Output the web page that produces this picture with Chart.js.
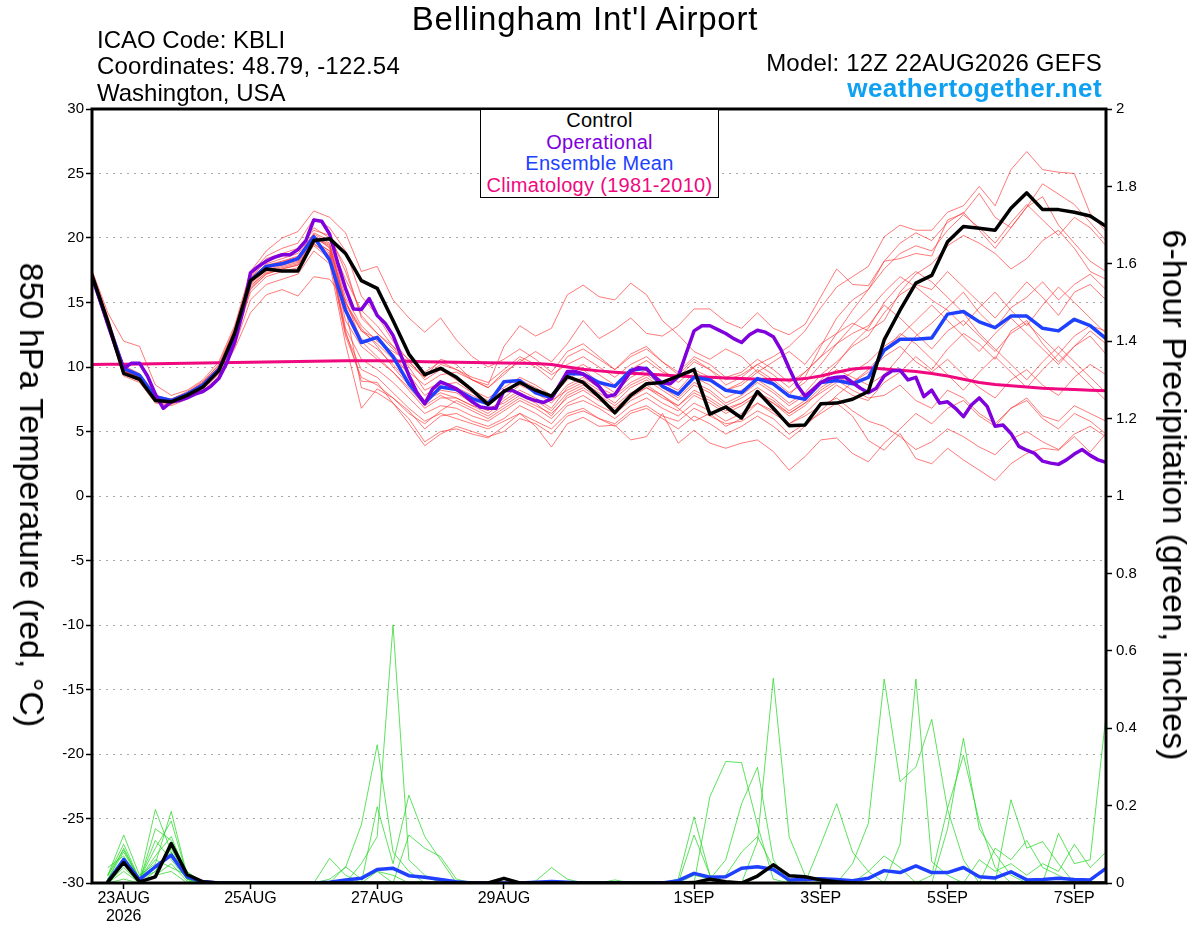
<!DOCTYPE html>
<html>
<head>
<meta charset="utf-8">
<title>Bellingham Int'l Airport - GEFS 850 hPa temperature and precipitation</title>
<script src="https://cdn.jsdelivr.net/npm/chart.js@4.4.0/dist/chart.umd.min.js"></script>
<style>
  body { margin: 0; background: #fff; }
  #wrap { position: relative; width: 1200px; height: 927px; overflow: hidden;
          font-family: "Liberation Sans", Arial, Helvetica, sans-serif; color: #000; }
  #c { position: absolute; left: 0; top: 0; }
  .txt { position: absolute; white-space: nowrap; line-height: 1; }
  #title { left: 585px; top: 2px; font-size: 33px; letter-spacing: 0.8px; transform: translateX(-50%); }
  #icao { left: 97px; top: 28px; font-size: 24px; }
  #coords { left: 97px; top: 54px; font-size: 24px; letter-spacing: 0.2px; }
  #state { left: 97px; top: 81px; font-size: 24px; }
  #model { right: 98px; top: 51px; font-size: 24px; letter-spacing: 0.2px; }
  #site { right: 98px; top: 75px; font-size: 26px; letter-spacing: 0.4px; font-weight: bold; color: #10a0f2; }
  #legend { position: absolute; left: 480px; top: 109px; width: 239px; height: 89px; box-sizing: border-box;
            border: 1.5px solid #000; background: #fff; text-align: center; font-size: 20px;
            letter-spacing: 0.3px; line-height: 21.5px; }
  #ytitleL { left: 32px; top: 495px; font-size: 34px; transform: translate(-50%, -50%) rotate(90deg); }
  #ytitleR { left: 1175px; top: 495px; font-size: 34px; transform: translate(-50%, -50%) rotate(90deg); }
</style>
</head>
<body>
<div id="wrap">
  <canvas id="c" width="1200" height="927"></canvas>
  <div class="txt" id="title">Bellingham Int'l Airport</div>
  <div class="txt" id="icao">ICAO Code: KBLI</div>
  <div class="txt" id="coords">Coordinates: 48.79, -122.54</div>
  <div class="txt" id="state">Washington, USA</div>
  <div class="txt" id="model">Model: 12Z 22AUG2026 GEFS</div>
  <div class="txt" id="site">weathertogether.net</div>
  <div id="legend">
    <div style="color:#000">Control</div>
    <div style="color:#7f00dd">Operational</div>
    <div style="color:#2040ff">Ensemble Mean</div>
    <div style="color:#f0087f">Climatology (1981-2010)</div>
  </div>
  <div class="txt" id="ytitleL">850 hPa Temperature (red, °C)</div>
  <div class="txt" id="ytitleR">6-hour Precipitation (green, inches)</div>
</div>
<script>
// x axis: forecast hour from 12Z 22AUG2026
const tickHours = [12, 60, 108, 156, 228, 276, 324, 372];
const tickLabels = [['23AUG', '2026'], '25AUG', '27AUG', '29AUG', '1SEP', '3SEP', '5SEP', '7SEP'];

// 850 hPa temperature, 6-hourly from hour 0
const controlT = [17.1,13.5,9.5,9.05,7.4,7.3,7.8,8.45,9.7,12.6,16.7,17.6,17.45,17.45,19.8,19.95,18.8,16.7,16.1,13.6,
  11.0,9.4,9.9,9.2,8.2,7.1,8.1,8.8,8.2,7.75,9.25,8.8,7.7,6.45,7.8,8.7,8.8,9.3,9.8,6.35,
  6.9,6.05,8.1,6.8,5.45,5.5,7.15,7.2,7.5,8.1,12.1,14.4,16.5,17.1,19.7,20.9,20.75,20.6,22.3,23.5,
  22.2,22.2,22.0,21.7,20.9];
const meanT = [17.0,13.4,9.9,9.35,7.7,7.4,7.9,8.6,9.8,12.3,16.7,17.8,18.0,18.4,20.1,18.3,14.4,11.9,12.3,10.8,
  8.7,7.2,8.45,8.25,7.55,7.15,8.85,8.95,8.0,7.6,9.5,9.45,8.8,8.5,9.75,9.9,8.5,7.9,9.2,9.0,
  8.2,8.0,9.1,8.7,7.75,7.5,8.8,8.95,8.7,9.2,11.3,12.15,12.15,12.25,14.1,14.3,13.5,13.05,13.95,13.95,
  13.0,12.8,13.7,13.2,12.2];
const climT = [10.2,10.21,10.22,10.23,10.25,10.27,10.29,10.31,10.33,10.35,10.37,10.39,10.41,10.43,10.45,10.47,10.48,10.49,10.49,10.47,
  10.44,10.41,10.39,10.37,10.35,10.33,10.31,10.3,10.28,10.2,10.0,9.82,9.7,9.6,9.52,9.45,9.38,9.3,9.25,9.2,
  9.15,9.1,9.06,9.03,9.0,9.1,9.3,9.6,9.85,9.95,9.85,9.75,9.65,9.5,9.3,9.05,8.8,8.65,8.55,8.45,
  8.35,8.3,8.25,8.2,8.15];
// operational run, 3-hourly from hour 0
const operT = [17.0,15.2,13.3,11.5,9.9,10.3,10.3,9.3,7.9,6.8,
  7.3,7.4,7.6,7.9,8.1,8.5,9.1,10.3,11.9,14.2,
  17.3,17.8,18.2,18.5,18.7,18.7,19.1,19.8,21.4,21.3,
  20.3,18.1,16.1,14.5,14.45,15.3,14.0,13.4,12.45,10.9,
  9.35,8.05,7.15,8.3,8.85,8.6,8.3,7.8,7.3,6.9,
  6.8,6.8,8.15,8.2,7.9,7.6,7.4,7.25,7.55,8.6,
  9.65,9.65,9.45,9.0,8.5,7.7,7.85,8.75,9.65,9.95,
  9.85,9.25,8.75,8.7,9.25,11.05,12.8,13.2,13.2,12.9,
  12.6,12.2,11.9,12.5,12.85,12.7,12.35,11.3,9.9,8.6,
  7.75,8.25,8.8,9.1,9.2,9.25,8.8,8.35,8.0,8.35,
  9.3,9.7,9.75,9.0,9.2,7.7,8.2,7.2,7.3,6.8,
  6.15,7.05,7.6,6.95,5.4,5.5,4.85,3.85,3.55,3.3,
  2.7,2.55,2.45,2.8,3.25,3.6,3.15,2.8,2.6];
// ensemble members, 6-hourly from hour 0
const ensT = [
  [17.3,13.8,10.1,9.5,7.8,7.5,8.0,8.8,10.2,13.0,17.2,18.6,19.2,19.6,21.5,20.8,19.0,15.5,14.0,12.0,10.5,9.0,9.8,9.0,8.2,7.6,8.4,9.2,8.6,7.8,9.6,10.2,9.4,8.6,9.8,10.5,9.6,9.2,10.4,9.8,9.0,9.4,10.2,10.8,11.6,12.8,14.6,16.2,17.0,17.8,20.1,21.0,20.6,20.6,22.0,22.5,24.0,22.5,25.3,26.7,25.3,25.1,25.0,21.9,20.5],
  [17.2,13.5,9.9,9.4,7.7,7.4,7.9,8.7,10.0,12.8,17.0,18.4,18.8,19.2,20.6,20.2,17.4,14.0,12.6,11.6,10.6,9.6,10.4,9.8,9.0,8.6,11.6,13.2,12.4,13.0,15.6,16.35,15.45,15.2,16.5,15.6,13.6,12.5,11.2,10.6,11.4,10.8,9.6,10.4,11.2,10.2,11.8,12.6,13.4,12.8,13.6,15.8,17.2,18.0,19.4,20.2,19.6,18.8,17.6,18.4,19.8,20.6,19.2,17.4,16.8],
  [17.1,13.6,9.7,9.2,7.6,7.3,7.8,8.6,9.9,12.5,16.8,18.0,18.4,18.8,20.3,19.6,15.4,13.2,12.0,11.2,10.4,9.2,10.6,10.2,9.0,8.4,9.6,10.4,11.2,10.4,11.8,13.6,12.2,12.9,13.8,12.6,12.4,13.2,14.5,14.5,13.5,13.0,14.2,13.0,12.5,13.3,15.45,17.6,16.4,16.3,18.2,18.4,18.8,18.6,21.4,21.9,23.45,21.6,20.8,22.4,23.2,21.0,19.6,18.2,17.4],
  [17.2,13.4,9.6,9.0,7.4,7.2,7.7,8.4,9.6,12.0,16.0,17.2,17.6,17.9,19.6,18.6,12.6,9.8,9.2,8.0,6.8,5.8,6.4,6.0,5.6,5.2,5.8,6.4,5.8,5.2,6.4,6.8,6.0,5.6,6.6,7.0,6.2,5.8,6.8,6.2,5.6,5.8,6.6,6.0,4.8,5.6,6.4,7.2,6.2,4.3,3.55,4.85,2.9,2.5,3.7,2.8,2.0,1.2,2.5,3.3,3.7,3.55,4.6,3.4,4.85],
  [17.3,13.5,9.8,9.1,7.5,7.3,7.8,8.5,9.7,12.1,16.2,17.4,17.8,18.1,19.8,19.0,14.6,8.4,8.0,7.2,6.0,4.2,5.0,5.2,4.8,4.5,5.4,6.4,5.4,3.8,5.6,6.1,5.4,5.5,4.35,4.6,6.4,4.1,5.1,4.1,3.7,4.1,4.35,3.45,2.0,3.05,4.35,4.5,3.3,2.65,4.1,5.2,6.4,5.6,6.8,7.4,6.2,5.4,6.8,7.6,6.2,5.8,7.0,6.4,5.8],
  [17.2,13.4,9.5,8.9,7.3,7.1,7.6,8.3,9.4,11.6,15.2,16.4,16.8,17.2,19.0,18.0,11.8,6.8,8.3,7.6,6.4,5.6,6.6,7.4,6.8,6.2,7.0,7.8,7.2,6.2,7.8,8.4,7.6,6.6,7.6,8.4,7.8,6.8,5.8,6.4,5.4,6.0,7.2,6.4,5.6,6.4,7.6,8.6,7.8,7.4,8.8,9.6,10.8,9.8,11.4,12.6,11.8,10.6,12.8,13.6,11.8,10.4,11.6,12.4,11.0],
  [17.0,13.2,9.4,9.0,7.5,7.4,8.0,8.8,10.0,12.6,16.6,17.8,18.2,18.6,20.2,19.2,14.6,12.2,11.4,10.2,8.8,7.4,8.2,8.0,7.2,6.6,7.6,8.6,8.0,7.2,8.6,9.2,8.4,7.8,8.8,9.4,8.6,8.0,9.2,8.6,7.6,8.2,9.0,8.2,7.2,8.0,9.4,10.4,11.6,12.4,14.2,15.6,16.4,16.0,17.4,16.2,15.0,13.8,15.2,16.6,15.4,14.0,15.8,16.4,15.2],
  [17.4,13.9,10.0,9.3,7.6,7.5,8.1,8.9,10.1,12.9,16.9,17.9,18.2,18.5,20.4,19.8,16.8,14.4,13.2,11.6,10.0,8.2,8.8,8.4,7.8,7.2,8.0,9.0,8.4,7.6,9.0,9.8,8.8,8.0,9.2,9.8,8.8,8.2,9.6,9.0,8.2,8.6,9.6,8.8,7.8,9.2,11.6,13.8,15.2,16.0,17.6,18.8,19.4,19.0,20.6,21.8,20.8,19.6,21.2,22.6,21.4,20.2,21.6,20.8,19.4],
  [17.1,13.3,9.6,9.1,7.5,7.2,7.7,8.5,9.6,12.2,16.4,17.5,17.9,18.2,19.8,18.8,13.0,10.6,9.8,8.8,7.6,6.4,7.0,6.8,6.2,5.8,6.6,7.4,6.8,6.0,7.2,7.8,7.0,6.4,7.4,8.0,7.2,6.6,7.8,7.2,6.4,7.0,7.8,7.2,6.2,7.0,8.2,9.0,8.2,7.6,7.8,8.6,7.4,6.8,8.2,7.6,6.4,5.6,6.8,7.4,6.0,5.2,6.4,5.8,4.8],
  [17.3,13.7,9.9,9.3,7.7,7.5,7.9,8.7,9.9,12.5,16.6,17.7,18.1,18.5,20.1,19.4,14.8,12.8,12.2,11.0,9.4,7.8,8.6,8.8,8.0,7.4,8.2,8.8,8.2,7.4,8.2,8.8,8.0,7.2,8.4,9.0,8.2,7.4,8.6,8.0,7.0,7.6,8.4,7.6,6.6,7.4,8.8,9.8,9.2,8.6,9.4,10.8,12.4,13.4,14.6,15.8,14.2,13.0,14.6,15.4,16.6,15.2,16.4,17.2,16.0],
  [17.2,13.6,9.8,9.2,7.6,7.4,7.9,8.6,9.8,12.3,16.3,17.3,17.7,18.0,19.7,19.0,13.6,11.6,10.6,9.6,8.2,6.8,7.6,7.6,7.0,6.8,7.2,8.0,7.4,6.6,8.0,8.6,7.8,7.0,8.0,8.6,7.8,7.0,8.0,7.4,6.6,7.2,8.0,7.2,6.4,7.2,8.4,9.2,8.8,9.6,10.8,11.6,10.4,9.6,10.6,9.4,8.4,7.6,9.0,9.8,8.6,7.8,9.2,10.2,9.4],
  [17.2,13.5,9.7,9.2,7.6,7.3,7.8,8.6,9.8,12.4,16.5,17.6,18.0,18.3,20.0,19.3,15.0,12.8,11.8,10.6,9.6,8.6,9.4,9.6,9.0,8.4,9.4,10.6,10.0,9.0,10.8,11.4,10.6,9.8,11.0,11.6,10.4,9.6,10.8,10.2,9.2,9.6,10.6,9.8,8.8,9.6,10.8,11.8,12.6,13.2,14.8,13.8,12.6,11.4,12.8,13.6,12.4,11.2,12.6,13.4,12.2,11.0,12.4,13.2,12.8],
  [17.1,13.4,9.6,9.0,7.4,7.2,7.7,8.4,9.5,12.0,15.8,17.0,17.4,17.7,19.4,18.4,12.4,9.2,8.6,7.6,6.6,5.2,6.2,6.4,5.8,5.4,6.0,7.0,6.4,5.6,7.0,7.4,6.8,6.0,7.0,7.6,6.8,6.2,7.2,6.6,5.8,6.4,7.2,6.6,5.6,6.2,7.0,7.6,6.6,5.8,5.4,4.6,3.6,4.2,5.2,4.6,3.8,3.2,4.4,5.0,4.2,3.6,4.8,5.4,4.6],
  [17.2,13.5,9.7,9.1,7.5,7.3,7.8,8.5,9.6,12.2,16.1,17.2,17.6,17.9,19.5,18.7,12.8,8.9,8.8,7.2,5.6,3.9,4.8,5.4,5.0,4.6,5.0,6.0,5.6,4.8,6.2,6.6,6.0,5.4,6.4,6.8,6.0,5.2,6.2,5.6,4.8,5.4,6.2,5.4,4.4,5.4,6.6,7.8,8.8,9.8,11.2,12.6,11.8,10.6,9.4,8.2,9.6,10.8,9.6,8.4,9.8,11.0,9.8,8.6,7.4],
  [17.5,14.2,12.0,11.6,8.6,7.8,8.2,9.0,10.4,13.2,17.4,19.0,20.0,20.5,22.1,21.6,20.4,17.4,17.8,15.2,13.8,12.7,13.8,12.1,10.8,10.0,10.6,11.4,10.6,9.6,11.2,11.8,10.8,9.8,10.8,11.4,10.4,9.4,10.6,9.8,8.6,9.2,10.2,9.4,8.4,9.6,10.8,12.6,14.4,16.0,18.2,19.6,20.4,19.8,21.2,22.0,20.6,19.2,20.8,22.4,24.2,23.4,22.6,21.2,19.8],
  [17.0,13.1,9.3,8.8,7.2,7.0,7.5,8.2,9.2,11.4,14.2,15.6,16.0,15.5,17.0,16.8,15.2,12.0,10.8,9.6,8.4,7.0,7.8,7.2,6.6,6.0,6.8,7.6,7.0,6.4,7.6,8.2,7.4,6.8,7.8,8.4,7.6,7.0,8.2,7.6,6.8,7.2,8.0,7.4,6.4,7.2,8.0,8.8,9.6,10.4,11.6,12.4,13.6,14.8,13.6,12.4,11.2,12.6,13.8,12.6,11.4,10.2,11.6,12.8,11.8],
  [17.3,13.7,9.9,9.4,7.7,7.5,8.0,8.7,10.0,12.7,16.9,18.2,18.6,19.0,20.8,20.0,17.8,13.8,12.6,11.4,10.2,9.2,10.2,9.8,9.2,8.8,9.8,10.8,10.2,9.4,10.2,10.8,10.0,9.2,10.2,10.8,9.8,8.8,9.8,9.2,8.2,8.8,9.8,9.0,8.0,8.8,10.2,11.8,13.2,14.4,15.8,17.0,16.2,15.2,14.4,13.2,14.6,15.8,14.4,13.2,14.8,16.2,15.0,13.8,12.6],
  [17.2,13.5,9.8,9.3,7.6,7.4,7.9,8.6,9.8,12.4,16.6,17.7,18.1,18.4,20.1,19.5,15.0,13.0,11.6,10.0,8.6,7.4,8.0,7.6,7.0,6.4,7.4,8.2,7.6,6.8,8.4,9.0,8.2,7.6,8.6,9.2,8.4,7.6,8.8,8.2,7.2,7.8,8.8,8.0,7.0,7.8,9.0,10.2,11.8,13.0,15.0,16.4,17.4,16.6,15.4,14.2,12.6,11.4,10.2,9.0,10.4,11.6,10.4,9.2,8.0]
];

// 6-hour precipitation (inches), 6-hourly from hour 6
const controlP = [0.003,0.053,0.003,0.016,0.102,0.022,0.003,0,0,0,0,0,0,0,0,0,0,0,0,0,0,0,0,0,0,0.012,
  0,0,0,0,0,0,0,0,0,0,0,0.001,0.01,0.003,0,0.018,0.047,0.019,0.016,0.008,0.003,
  0,0,0,0,0,0,0,0,0,0,0,0,0,0,0,0,0];
const meanP = [0.003,0.061,0.009,0.042,0.072,0.016,0.003,0,0,0,0,0,0,0,0.002,0.008,0.012,0.035,0.038,0.019,
  0.015,0.009,0.003,0,0,0,0,0.002,0.004,0.002,0,0,0,0,0,0,0.006,0.025,0.015,0.016,
  0.038,0.042,0.035,0.008,0.009,0.011,0.009,0.006,0.012,0.032,0.027,0.044,0.027,0.027,0.04,0.016,0.013,0.029,0.008,0.009,
  0.012,0.009,0.008,0.038];
const ensP = [
  [0.01,0.09,0.01,0.19,0.08,0.01,0,0,0,0,0,0,0,0,0.01,0.04,0.15,0.357,0.08,0.03,0,0,0,0,0,0,0,0,0,0,0,0,0,0,0,0,0,0,0,0,0,0,0,0,0,0,0,0.05,0.154,0.527,0.262,0.30,0.423,0.19,0.06,0,0,0,0,0,0,0,0,0],
  [0.02,0.124,0.02,0.05,0.185,0.02,0,0,0,0,0,0,0,0,0,0,0.05,0.12,0.667,0.06,0.02,0,0,0,0,0,0,0,0,0,0,0,0,0,0,0,0,0,0,0,0,0,0,0,0,0,0,0,0,0,0.10,0.527,0.055,0.02,0,0,0,0,0,0,0,0,0,0],
  [0,0.06,0.005,0.14,0.11,0.03,0,0,0,0,0,0,0,0,0,0,0,0.197,0.05,0.227,0.12,0.06,0,0,0,0,0,0,0,0,0,0,0,0,0,0,0,0,0,0,0,0,0,0,0,0,0,0,0,0,0,0,0,0.14,0.374,0.14,0.076,0.02,0,0,0,0,0,0],
  [0.01,0.08,0.01,0.03,0.09,0.01,0,0,0,0,0,0,0,0,0.064,0.02,0,0,0,0,0,0,0,0,0,0,0,0,0,0,0,0,0,0,0,0,0,0,0,0,0,0,0,0,0,0,0,0,0,0,0,0,0.02,0.193,0.33,0.16,0.04,0,0,0,0,0,0,0],
  [0.02,0.10,0.01,0.09,0.16,0.02,0,0,0,0,0,0,0,0,0,0.042,0.01,0.03,0,0,0,0,0,0,0,0,0,0,0,0,0,0,0,0,0,0,0,0,0,0,0,0.107,0.529,0.12,0.02,0,0,0,0,0,0,0,0,0,0,0,0,0,0,0,0,0,0,0],
  [0,0.03,0,0.02,0.05,0.005,0,0,0,0,0,0,0,0,0,0,0,0,0,0.124,0.09,0.068,0.01,0,0,0,0,0,0,0,0,0,0,0,0,0,0,0,0.223,0.314,0.311,0.15,0.01,0,0,0,0,0,0,0,0,0,0,0,0,0,0,0,0,0,0,0,0,0],
  [0.04,0.07,0.01,0.11,0.06,0.01,0,0,0,0,0,0,0,0,0,0,0,0.03,0.02,0,0,0,0,0,0,0,0,0,0,0,0,0,0,0,0,0,0,0.02,0.01,0.06,0.205,0.299,0.06,0,0,0,0,0,0,0,0,0,0,0,0,0,0,0,0,0,0,0,0,0],
  [0.01,0.05,0.01,0.06,0.04,0.02,0,0,0,0,0,0,0,0,0,0,0,0,0,0,0,0,0,0,0,0,0,0.005,0.04,0.01,0,0,0,0,0,0,0,0.124,0.02,0,0,0,0,0,0,0.1,0.205,0.08,0.03,0,0,0,0,0,0,0,0,0,0,0,0,0,0,0],
  [0,0.01,0,0.02,0.03,0,0,0,0,0,0,0,0,0,0,0,0,0,0,0,0,0,0,0,0,0,0,0,0,0,0,0,0.008,0,0,0,0,0,0,0,0,0,0,0,0,0,0,0,0,0,0,0,0,0,0,0,0,0.215,0.09,0.107,0.05,0,0,0],
  [0.02,0.085,0.01,0.07,0.12,0.02,0,0,0,0,0,0,0,0,0,0,0,0,0,0,0,0,0,0,0,0,0,0,0,0,0,0,0,0,0,0,0,0,0,0,0,0,0,0,0,0,0,0,0,0,0,0,0,0,0,0,0,0,0,0,0.128,0.05,0.06,0.434],
  [0.01,0.06,0.01,0.04,0.08,0.01,0,0,0,0,0,0,0,0,0,0,0,0,0,0,0,0,0,0,0,0,0,0,0,0,0,0,0,0,0,0,0.01,0.171,0.02,0,0,0,0,0,0,0,0,0,0,0,0,0,0,0,0,0.06,0.03,0.05,0.02,0.05,0.03,0.10,0.04,0.08],
  [0,0.04,0,0.03,0.10,0.015,0,0,0,0,0,0,0,0,0,0,0,0,0,0,0,0,0,0,0,0,0,0,0,0,0,0,0,0,0,0,0,0,0,0.02,0.08,0.12,0.04,0,0,0,0,0,0.03,0.07,0.04,0,0,0,0,0,0.09,0.06,0.11,0.04,0.02,0,0,0]
];

function toPoints(values, stepHours, firstStep) {
  return values.map((v, k) => ({ x: (k + firstStep) * stepHours, y: v }));
}

function lineSet(values, stepHours, firstStep, axis, color, width, order) {
  return {
    data: toPoints(values, stepHours, firstStep),
    yAxisID: axis,
    borderColor: color,
    borderWidth: width,
    order: order
  };
}

const datasets = [];
datasets.push(lineSet(controlT, 6, 0, 'yT', '#000000', 3.5, 1));
datasets.push(lineSet(operT, 3, 0, 'yT', '#7f00dd', 3.5, 2));
datasets.push(lineSet(meanT, 6, 0, 'yT', '#2040ff', 3.5, 3));
datasets.push(lineSet(climT, 6, 0, 'yT', '#f0087f', 3, 4));
datasets.push(lineSet(controlP, 6, 1, 'yP', '#000000', 3.5, 5));
datasets.push(lineSet(meanP, 6, 1, 'yP', '#2040ff', 3.5, 6));
ensP.forEach(m => datasets.push(lineSet(m, 6, 1, 'yP', 'rgba(30,215,30,0.9)', 0.8, 7)));
ensT.forEach(m => datasets.push(lineSet(m, 6, 0, 'yT', 'rgba(255,45,45,0.8)', 0.8, 8)));

// thick frame round the plot area
const framePlugin = {
  id: 'frame',
  afterDatasetsDraw(chart) {
    const { ctx, chartArea: a } = chart;
    ctx.save();
    ctx.strokeStyle = '#000';
    ctx.lineWidth = 3;
    ctx.strokeRect(a.left, a.top, a.right - a.left, a.bottom - a.top);
    ctx.restore();
  }
};

Chart.defaults.font.family = '"Liberation Sans", Arial, Helvetica, sans-serif';
Chart.defaults.color = '#000';

new Chart(document.getElementById('c').getContext('2d'), {
  type: 'line',
  data: { datasets: datasets },
  plugins: [framePlugin],
  options: {
    responsive: false,
    animation: false,
    devicePixelRatio: 1,
    events: [],
    parsing: false,
    layout: { padding: { top: 109, left: 0, right: 0, bottom: 0 } },
    plugins: { legend: { display: false }, tooltip: { enabled: false } },
    elements: {
      point: { radius: 0 },
      line: { tension: 0, fill: false, borderJoinStyle: 'round', borderCapStyle: 'round' }
    },
    scales: {
      x: {
        type: 'linear',
        min: 0,
        max: 384,
        afterFit: s => { s.height = 44; },
        afterBuildTicks: s => { s.ticks = tickHours.map(h => ({ value: h })); },
        ticks: {
          autoSkip: false,
          maxRotation: 0,
          padding: 1,
          font: { size: 16, lineHeight: 1.1 },
          callback: (v, i) => tickLabels[i]
        },
        grid: { drawOnChartArea: false, tickLength: 6, tickColor: '#000', tickWidth: 1.5 },
        border: { display: false }
      },
      yT: {
        position: 'left',
        min: -30,
        max: 30,
        afterFit: s => { s.width = 92; },
        ticks: { stepSize: 5, padding: 2, font: { size: 15 } },
        grid: { color: '#a8a8a8', lineWidth: 1, tickLength: 6, tickColor: '#000', tickWidth: 1.5 },
        border: { display: false, dash: [2, 5] }
      },
      yP: {
        position: 'right',
        min: 0,
        max: 2,
        afterFit: s => { s.width = 94; },
        ticks: { stepSize: 0.2, padding: 4, font: { size: 15 }, callback: v => String(Math.round(v * 10) / 10) },
        grid: { drawOnChartArea: false, tickLength: 6, tickColor: '#000', tickWidth: 1.5 },
        border: { display: false }
      }
    }
  }
});
</script>
</body>
</html>
